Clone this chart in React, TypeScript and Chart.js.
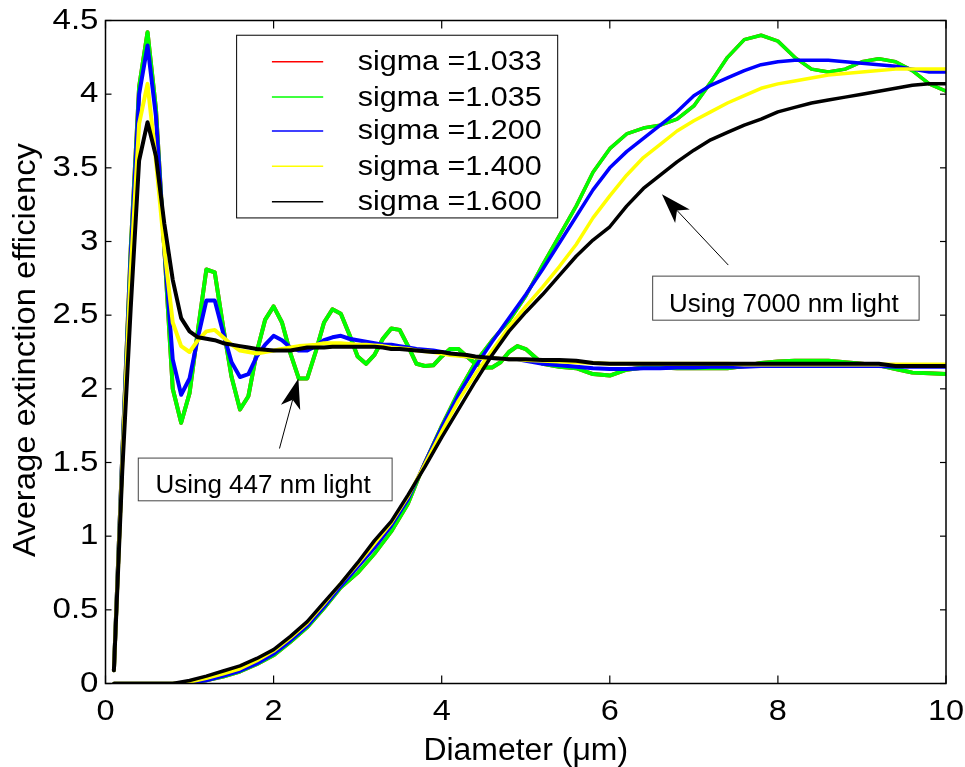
import React, { useEffect, useRef } from "react";
import { Chart, registerables } from "chart.js";

Chart.register(...registerables);

// Legend entries and line colours, one per size-distribution width
const sigmaLabels = ["sigma =1.033", "sigma =1.035", "sigma =1.200", "sigma =1.400", "sigma =1.600"];
const sigmaColors = ["#ff0000", "#00ff00", "#0000ff", "#ffff00", "#000000"];

// Axis ticks
const xTicks = [0, 2, 4, 6, 8, 10];
const xTickLabels = ["0", "2", "4", "6", "8", "10"];
const yTicks = [0, 0.5, 1, 1.5, 2, 2.5, 3, 3.5, 4, 4.5];
const yTickLabels = ["0", "0.5", "1", "1.5", "2", "2.5", "3", "3.5", "4", "4.5"];

// Diameters (um) of the 447 nm runs
const diam447 = [
  0.1, 0.2, 0.3, 0.4, 0.5, 0.6, 0.7, 0.8, 0.9, 1.0,
  1.1, 1.2, 1.3, 1.4, 1.5, 1.6, 1.7, 1.8, 1.9, 2.0,
  2.1, 2.2, 2.3, 2.4, 2.5, 2.6, 2.7, 2.8, 2.9, 3.0,
  3.1, 3.2, 3.3, 3.4, 3.5, 3.6, 3.7, 3.8, 3.9, 4.0,
  4.1, 4.2, 4.3, 4.4, 4.5, 4.6, 4.7, 4.8, 4.9, 5.0,
  5.2, 5.4, 5.6, 5.8, 6.0, 6.2, 6.4, 6.6, 6.8, 7.0,
  7.2, 7.4, 7.6, 7.8, 8.0, 8.2, 8.4, 8.6, 8.8, 9.0,
  9.2, 9.4, 9.6, 9.8, 10.0,
];

// Average extinction efficiency at 447 nm
const q447s1035 = [
  0.09, 1.55, 2.95, 4.05, 4.42, 3.9, 2.95, 2.0, 1.77, 1.97,
  2.4, 2.81, 2.79, 2.42, 2.08, 1.86, 1.95, 2.25, 2.47, 2.56,
  2.45, 2.24, 2.07, 2.07, 2.25, 2.45, 2.54, 2.51, 2.37, 2.22,
  2.17, 2.23, 2.34, 2.41, 2.4, 2.29, 2.17, 2.155, 2.16, 2.22,
  2.27, 2.27, 2.22, 2.17, 2.145, 2.145, 2.18, 2.25, 2.29, 2.27,
  2.17, 2.15, 2.14, 2.1, 2.09, 2.13, 2.145, 2.145, 2.14, 2.14,
  2.14, 2.14, 2.155, 2.175, 2.185, 2.19, 2.19, 2.19, 2.18, 2.17,
  2.16, 2.135, 2.11, 2.105, 2.1,
];
const q447s1033 = q447s1035.slice();
const q447s1200 = [
  0.09, 1.55, 2.9, 4.0, 4.33, 3.85, 2.95, 2.2, 1.96, 2.07,
  2.35, 2.6, 2.6, 2.38, 2.18, 2.08, 2.1, 2.22, 2.3, 2.36,
  2.33, 2.28, 2.26, 2.26, 2.29, 2.33, 2.35, 2.36, 2.34, 2.33,
  2.32, 2.31, 2.3, 2.3, 2.29, 2.28, 2.27, 2.265, 2.26, 2.25,
  2.24, 2.23, 2.22, 2.215, 2.21, 2.21, 2.205, 2.2, 2.2, 2.19,
  2.17, 2.16, 2.15, 2.14, 2.135, 2.135, 2.14, 2.14, 2.145, 2.145,
  2.15, 2.15, 2.15, 2.155, 2.155, 2.155, 2.155, 2.155, 2.155, 2.155,
  2.155, 2.15, 2.15, 2.15, 2.15,
];
const q447s1400 = [
  0.09, 1.5, 2.8, 3.8, 4.07, 3.55, 2.95, 2.45, 2.29, 2.25,
  2.33, 2.39, 2.4, 2.35, 2.3, 2.26, 2.25, 2.24, 2.25, 2.26,
  2.27, 2.28, 2.29, 2.295, 2.3, 2.31, 2.31, 2.31, 2.305, 2.3,
  2.3, 2.295, 2.29, 2.28, 2.275, 2.27, 2.26, 2.255, 2.25, 2.24,
  2.23, 2.225, 2.22, 2.215, 2.21, 2.21, 2.205, 2.2, 2.2, 2.195,
  2.19, 2.185, 2.18, 2.175, 2.17, 2.17, 2.17, 2.17, 2.17, 2.17,
  2.17, 2.17, 2.165, 2.165, 2.165, 2.165, 2.165, 2.165, 2.165, 2.165,
  2.165, 2.165, 2.165, 2.165, 2.165,
];
const q447s1600 = [
  0.09, 1.45, 2.55, 3.55, 3.81, 3.58, 3.12, 2.74, 2.48, 2.39,
  2.35, 2.34, 2.33, 2.31, 2.3, 2.29, 2.28, 2.27, 2.265, 2.26,
  2.26, 2.26, 2.27, 2.28, 2.28, 2.28, 2.285, 2.285, 2.285, 2.285,
  2.285, 2.285, 2.28, 2.27, 2.27, 2.265, 2.26, 2.255, 2.25, 2.25,
  2.24, 2.235, 2.23, 2.22, 2.215, 2.21, 2.205, 2.2, 2.2, 2.2,
  2.195, 2.195, 2.19, 2.175, 2.17, 2.17, 2.17, 2.17, 2.17, 2.17,
  2.17, 2.17, 2.17, 2.17, 2.17, 2.17, 2.17, 2.17, 2.17, 2.17,
  2.17, 2.155, 2.155, 2.155, 2.155,
];

// Diameters (um) of the 7000 nm runs
const diam7000 = [
  0.1, 0.2, 0.4, 0.6, 0.8, 1.0, 1.2, 1.4, 1.6, 1.8,
  2.0, 2.2, 2.4, 2.6, 2.8, 3.0, 3.2, 3.4, 3.6, 3.8,
  4.0, 4.2, 4.4, 4.6, 4.8, 5.0, 5.2, 5.4, 5.6, 5.8,
  6.0, 6.2, 6.4, 6.6, 6.8, 7.0, 7.2, 7.4, 7.6, 7.8,
  8.0, 8.2, 8.4, 8.6, 8.8, 9.0, 9.2, 9.4, 9.6, 9.8,
  10.0,
];

// Average extinction efficiency at 7000 nm
const q7000s1035 = [
  0, 0, 0, 0, 0, 0.005, 0.02, 0.045, 0.08, 0.13,
  0.19, 0.28, 0.38, 0.51, 0.65, 0.75, 0.88, 1.03, 1.22, 1.5,
  1.75, 1.98, 2.18, 2.33, 2.46, 2.63, 2.84, 3.04, 3.24, 3.47,
  3.63, 3.73, 3.77, 3.79, 3.83, 3.92, 4.08, 4.25, 4.37, 4.4,
  4.36, 4.25, 4.17, 4.15, 4.17, 4.22, 4.24, 4.22, 4.16, 4.07,
  4.02,
];
const q7000s1033 = q7000s1035.slice();
const q7000s1200 = [
  0, 0, 0, 0, 0, 0.005, 0.02, 0.05, 0.085, 0.135,
  0.2, 0.29, 0.39, 0.52, 0.66, 0.79, 0.92, 1.07, 1.25, 1.5,
  1.74, 1.96, 2.15, 2.32, 2.48, 2.64, 2.81, 2.99, 3.17, 3.35,
  3.5, 3.61, 3.7, 3.79, 3.88, 3.99, 4.06, 4.11, 4.16, 4.2,
  4.22, 4.23, 4.23, 4.23, 4.22, 4.21, 4.2, 4.19, 4.17, 4.15,
  4.15,
];
const q7000s1400 = [
  0, 0, 0, 0, 0, 0.01, 0.035, 0.065, 0.1, 0.155,
  0.22, 0.31, 0.41, 0.54, 0.68, 0.81, 0.95, 1.09, 1.27, 1.49,
  1.71, 1.92, 2.1, 2.26, 2.42, 2.56, 2.69, 2.83, 2.98, 3.16,
  3.31, 3.45, 3.57, 3.66, 3.75, 3.82, 3.88, 3.94, 3.99, 4.04,
  4.07, 4.09, 4.11, 4.13, 4.14, 4.15, 4.16, 4.17, 4.17, 4.17,
  4.17,
];
const q7000s1600 = [
  0, 0, 0, 0, 0, 0.02, 0.05, 0.085, 0.12, 0.17,
  0.23, 0.32, 0.42, 0.55, 0.68, 0.82, 0.97, 1.1, 1.28, 1.47,
  1.67, 1.86, 2.05, 2.23, 2.39, 2.52, 2.64, 2.77, 2.9, 3.01,
  3.1, 3.24, 3.36, 3.45, 3.54, 3.62, 3.69, 3.74, 3.79, 3.83,
  3.88, 3.91, 3.94, 3.96, 3.98, 4.0, 4.02, 4.04, 4.06, 4.07,
  4.07,
];

const series447 = [q447s1033, q447s1035, q447s1200, q447s1400, q447s1600];
const series7000 = [q7000s1033, q7000s1035, q7000s1200, q7000s1400, q7000s1600];

const FONT = '"Liberation Sans", Arial, Helvetica, sans-serif';

function makeDataset(label, xs, ys, color, width, order) {
  return {
    label,
    data: xs.map((d, i) => ({ x: d, y: ys[i] })),
    borderColor: color,
    backgroundColor: color,
    borderWidth: width,
    pointRadius: 0,
    tension: 0,
    fill: false,
    order,
    borderJoinStyle: "round",
    borderCapStyle: "round",
  };
}

// Text drawn with a horizontal stretch around its anchor point
function fillStretched(ctx, text, x, y, sx) {
  ctx.save();
  ctx.translate(x, y);
  ctx.scale(sx, 1);
  ctx.fillText(text, 0, 0);
  ctx.restore();
}

function drawArrow(ctx, x0, y0, x1, y1) {
  const dx = x1 - x0;
  const dy = y1 - y0;
  const len = Math.hypot(dx, dy);
  const ux = dx / len;
  const uy = dy / len;
  const headLen = 30;
  const halfW = 10;
  const notch = 22;
  const bx = x1 - ux * headLen;
  const by = y1 - uy * headLen;
  const nx = x1 - ux * notch;
  const ny = y1 - uy * notch;
  ctx.strokeStyle = "#000";
  ctx.lineWidth = 1;
  ctx.beginPath();
  ctx.moveTo(x0, y0);
  ctx.lineTo(nx, ny);
  ctx.stroke();
  ctx.fillStyle = "#000";
  ctx.beginPath();
  ctx.moveTo(x1, y1);
  ctx.lineTo(bx - uy * halfW, by + ux * halfW);
  ctx.lineTo(nx, ny);
  ctx.lineTo(bx + uy * halfW, by - ux * halfW);
  ctx.closePath();
  ctx.fill();
}

// Frame, ticks, labels, legend box and text annotations in the MATLAB style
const decorations = {
  id: "decorations",
  afterDatasetsDraw(chart) {
    const { ctx, chartArea: a, scales } = chart;
    const X = (v) => scales.x.getPixelForValue(v);
    const Y = (v) => scales.y.getPixelForValue(v);
    const seg = (x0, y0, x1, y1) => {
      ctx.beginPath();
      ctx.moveTo(x0, y0);
      ctx.lineTo(x1, y1);
      ctx.stroke();
    };
    ctx.save();

    // axes box
    ctx.strokeStyle = "#000";
    ctx.lineWidth = 1.5;
    ctx.strokeRect(a.left, a.top, a.right - a.left, a.bottom - a.top);

    // inward ticks on all four sides
    ctx.lineWidth = 1.2;
    xTicks.forEach((v) => {
      const px = X(v);
      seg(px, a.bottom, px, a.bottom - 8);
      seg(px, a.top, px, a.top + 8);
    });
    yTicks.forEach((v) => {
      const py = Y(v);
      seg(a.left, py, a.left + 6, py);
      seg(a.right, py, a.right - 6, py);
    });

    // tick labels
    ctx.fillStyle = "#000";
    ctx.font = `29px ${FONT}`;
    ctx.textAlign = "center";
    ctx.textBaseline = "alphabetic";
    xTicks.forEach((v, i) => fillStretched(ctx, xTickLabels[i], X(v), a.bottom + 36, 1.12));
    ctx.textAlign = "right";
    ctx.textBaseline = "middle";
    yTicks.forEach((v, i) => fillStretched(ctx, yTickLabels[i], a.left - 7, Y(v), 1.14));

    // axis titles
    ctx.font = `31px ${FONT}`;
    ctx.textAlign = "center";
    ctx.textBaseline = "alphabetic";
    fillStretched(ctx, "Diameter (\u03bcm)", (a.left + a.right) / 2, a.bottom + 76.5, 1.03);

    const yTitle = "Average extinction efficiency";
    ctx.save();
    ctx.translate(35, (a.top + a.bottom) / 2 - 2);
    ctx.rotate(-Math.PI / 2);
    const w = ctx.measureText(yTitle).width;
    ctx.scale(414 / w, 1);
    ctx.fillText(yTitle, 0, 0);
    ctx.restore();

    // legend
    const lx0 = X(1.56), lx1 = X(5.38), ly0 = Y(4.4), ly1 = Y(3.16);
    ctx.fillStyle = "#fff";
    ctx.fillRect(lx0, ly0, lx1 - lx0, ly1 - ly0);
    ctx.strokeStyle = "#000";
    ctx.lineWidth = 1;
    ctx.strokeRect(lx0, ly0, lx1 - lx0, ly1 - ly0);
    const rowY = [4.22, 3.98, 3.75, 3.51, 3.27];
    ctx.font = `27px ${FONT}`;
    ctx.textAlign = "left";
    ctx.textBaseline = "middle";
    sigmaLabels.forEach((lab, i) => {
      const py = Y(rowY[i]);
      ctx.strokeStyle = sigmaColors[i];
      ctx.lineWidth = 1.5;
      seg(X(1.98), py, X(2.59), py);
      ctx.fillStyle = "#000";
      fillStretched(ctx, lab, X(3.0), py + 1, 1.13);
    });

    // annotations
    ctx.strokeStyle = "#444";
    ctx.lineWidth = 1;
    ctx.strokeRect(X(0.39), Y(1.53), X(3.41) - X(0.39), Y(1.24) - Y(1.53));
    ctx.strokeRect(X(6.51), Y(2.765), X(9.68) - X(6.51), Y(2.466) - Y(2.765));
    ctx.fillStyle = "#000";
    ctx.font = `26px ${FONT}`;
    ctx.textAlign = "center";
    ctx.textBaseline = "alphabetic";
    ctx.fillText("Using 447 nm light", X(1.875), Y(1.29));
    ctx.fillText("Using 7000 nm light", X(8.07), Y(2.52));

    drawArrow(ctx, X(2.07), Y(1.595), X(2.295), Y(2.07));
    drawArrow(ctx, X(7.41), Y(2.84), X(6.62), Y(3.32));

    ctx.restore();
  },
};

export default function App() {
  const canvasRef = useRef(null);

  useEffect(() => {
    const datasets = [];
    // lower "order" is painted on top: black over yellow over blue over green over red
    for (let i = 0; i < 5; i++) {
      datasets.push(makeDataset(sigmaLabels[i], diam7000, series7000[i], sigmaColors[i], 3.5, (5 - i) * 2 - 1));
      datasets.push(makeDataset(sigmaLabels[i] + " (447 nm)", diam447, series447[i], sigmaColors[i], 4, (5 - i) * 2));
    }

    const chart = new Chart(canvasRef.current, {
      type: "line",
      data: { datasets },
      options: {
        animation: false,
        responsive: false,
        events: [],
        layout: {
          autoPadding: false,
          padding: { left: 105.5, top: 20.5, right: 19, bottom: 83.5 },
        },
        scales: {
          x: { type: "linear", min: 0, max: 10, display: false },
          y: { type: "linear", min: 0, max: 4.5, display: false },
        },
        plugins: {
          legend: { display: false },
          tooltip: { enabled: false },
        },
      },
      plugins: [decorations],
    });

    return () => chart.destroy();
  }, []);

  return (
    <div style={{ position: "fixed", left: 0, top: 0, width: 965, height: 767, background: "#fff" }}>
      <canvas ref={canvasRef} width={965} height={767} style={{ display: "block", width: 965, height: 767 }} />
    </div>
  );
}
